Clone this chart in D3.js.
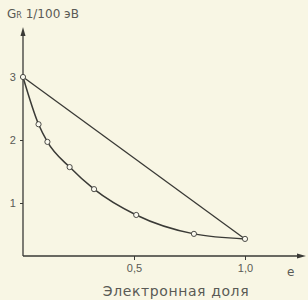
<!DOCTYPE html>
<html>
<head>
<meta charset="utf-8">
<script src="https://cdn.jsdelivr.net/npm/d3@7"></script>
<style>
  body { margin: 0; background: #f8f6e4; }
  svg { display: block; font-family: "DejaVu Sans", sans-serif; }
</style>
</head>
<body>
<svg id="chart"></svg>
<script>
// electron fraction e and G values
var curveE = [0, 0.07, 0.11, 0.21, 0.32, 0.51, 0.77, 1.0];
var curveG = [3, 2.25, 1.97, 1.57, 1.22, 0.81, 0.51, 0.43];
var lineE = [0, 1.0];
var lineG = [3, 0.43];
var xTicks = [0.5, 1.0];
var xTickLabels = ["0,5", "1,0"];
var yTicks = [1, 2, 3];

var totalWidth = 308;
var totalHeight = 300;

var svg = d3.select("#chart")
    .attr("width", totalWidth)
    .attr("height", totalHeight);

var x = d3.scaleLinear().domain([0, 1]).range([23, 245]);
var y = d3.scaleLinear().domain([0, 3]).range([266, 77]);
var axisY = 256;
var ink = "#3a3a36";
var txt = "#5a5a55";

// axes
svg.append("line")
    .attr("x1", x(0)).attr("y1", axisY)
    .attr("x2", 300).attr("y2", axisY)
    .attr("stroke", ink).attr("stroke-width", 1.3);
svg.append("path")
    .attr("d", "M306," + axisY + "l-9,-2.5l0,5z")
    .attr("fill", ink);
svg.append("line")
    .attr("x1", x(0)).attr("y1", axisY)
    .attr("x2", x(0)).attr("y2", 34)
    .attr("stroke", ink).attr("stroke-width", 1.3);
svg.append("path")
    .attr("d", "M" + x(0) + ",27l-2.5,9l5,0z")
    .attr("fill", ink);

var xAxis = svg.append("g")
    .attr("transform", "translate(0," + axisY + ")")
    .call(d3.axisBottom(x).tickValues(xTicks).tickSize(4)
        .tickFormat(function (d, i) { return xTickLabels[i]; }));
xAxis.select(".domain").remove();
xAxis.selectAll("line").attr("stroke", ink);
xAxis.selectAll("text").attr("fill", txt).attr("font-size", 11).attr("dy", "0.85em");

var yAxis = svg.append("g")
    .attr("transform", "translate(" + x(0) + ",0)")
    .call(d3.axisLeft(y).tickValues(yTicks).tickSize(3).tickFormat(d3.format("d")));
yAxis.select(".domain").remove();
yAxis.selectAll("line").attr("stroke", ink);
yAxis.selectAll("text").attr("fill", txt).attr("font-size", 11).attr("dx", "-0.1em");

// straight line and curve
var lineData = lineE.map(function (d, i) { return [d, lineG[i]]; });
var curveData = curveE.map(function (d, i) { return [d, curveG[i]]; });

var line = d3.line()
    .x(function (d) { return x(d[0]); })
    .y(function (d) { return y(d[1]); });

svg.append("path")
    .datum(lineData)
    .attr("d", line)
    .attr("fill", "none")
    .attr("stroke", ink)
    .attr("stroke-width", 1.3);

svg.append("path")
    .datum(curveData)
    .attr("d", line.curve(d3.curveMonotoneX))
    .attr("fill", "none")
    .attr("stroke", ink)
    .attr("stroke-width", 1.5);

svg.selectAll(".pt")
    .data(curveData)
    .enter()
    .append("circle")
    .attr("class", "pt")
    .attr("cx", function (d) { return x(d[0]); })
    .attr("cy", function (d) { return y(d[1]); })
    .attr("r", 2.6)
    .attr("fill", "#fbfaf0")
    .attr("stroke", ink)
    .attr("stroke-width", 0.9);

// labels
var title = svg.append("text")
    .attr("x", 7).attr("y", 18)
    .attr("fill", txt).attr("font-size", 12);
title.append("tspan").text("G");
title.append("tspan").attr("font-size", 8).text("R");
title.append("tspan").text(" 1/100 эВ");

svg.append("text")
    .attr("x", 287).attr("y", 276)
    .attr("fill", txt).attr("font-size", 12)
    .text("e");

svg.append("text")
    .attr("x", 176).attr("y", 296)
    .attr("text-anchor", "middle")
    .attr("fill", txt).attr("font-size", 14)
    .attr("letter-spacing", 0.6)
    .text("Электронная доля");
</script>
</body>
</html>
